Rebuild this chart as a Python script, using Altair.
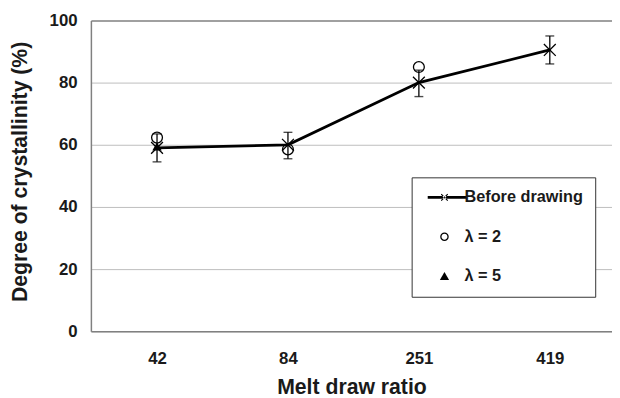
import json
import altair as alt
import pandas as pd

# ---- data ----
ratios = ["42", "84", "251", "419"]
before = [59.0, 60.0, 80.0, 90.5]
err_lo = [54.5, 55.5, 75.5, 86.0]
err_hi = [63.5, 64.0, 84.0, 95.0]
lam2 = [62.3, 58.5, 85.0, None]
lam5 = [59.5, None, None, None]
series_names = ["Before drawing", "λ = 2", "λ = 5"]
y_ticks = [0, 20, 40, 60, 80, 100]

idx = list(range(len(ratios)))
df_before = pd.DataFrame({"idx": idx, "value": before, "lo": err_lo, "hi": err_hi})
df_l2 = pd.DataFrame({"idx": idx, "value": lam2}).dropna()
df_l5 = pd.DataFrame({"idx": idx, "value": lam5}).dropna()
df_all = pd.concat([
    df_before[["idx", "value"]].assign(series=series_names[0]),
    df_l2.assign(series=series_names[1]),
    df_l5.assign(series=series_names[2]),
], ignore_index=True)

FONT = "Liberation Sans"
TXT = "#1a1a1a"
AXC = "#808080"

xscale = alt.Scale(domain=[-0.505, 3.475], nice=False, zero=False)
yscale = alt.Scale(domain=[0, 100], nice=False, zero=True)

xaxis = alt.Axis(
    values=idx,
    labelExpr=f"{json.dumps(ratios)}[datum.value]",
    ticks=False, grid=False,
    domainColor=AXC, domainWidth=1.5,
    labelFont=FONT, labelFontSize=17, labelFontWeight="bold", labelColor=TXT,
    labelPadding=20,
    titleFont=FONT, titleFontSize=21.5, titleFontWeight="bold", titleColor=TXT,
    titleBaseline="alphabetic", titleY=63,
)
yaxis = alt.Axis(
    values=y_ticks, ticks=False,
    domainColor=AXC, domainWidth=1.5,
    grid=True,
    gridColor={"condition": {"test": "datum.value === 100", "value": AXC}, "value": "#bdbdbd"},
    gridWidth={"condition": {"test": "datum.value === 100", "value": 1.5}, "value": 1},
    labelFont=FONT, labelFontSize=17, labelFontWeight="bold", labelColor=TXT,
    labelPadding=14,
    titleFont=FONT, titleFontSize=21.5, titleFontWeight="bold", titleColor=TXT,
    titleX=-71, titleY=153, titleAngle=-90, titleAlign="center", titleBaseline="middle",
)

XT = "Melt draw ratio"
YT = "Degree of crystallinity (%)"

def X(field):
    return alt.X(field, scale=xscale, axis=xaxis, title=XT)

def Y(field):
    return alt.Y(field, scale=yscale, axis=yaxis, title=YT)

line = alt.Chart(df_before).mark_line(color="black", strokeWidth=2.8).encode(
    x=X("idx:Q"), y=Y("value:Q"))

rules = alt.Chart(df_before).mark_rule(color="black", strokeWidth=1.3).encode(
    x=X("idx:Q"), y=Y("lo:Q"), y2="hi:Q")

cap_lo = alt.Chart(df_before).mark_tick(color="black", orient="horizontal", size=9, thickness=1.4).encode(
    x=X("idx:Q"), y=Y("lo:Q"))
cap_hi = alt.Chart(df_before).mark_tick(color="black", orient="horizontal", size=9, thickness=1.4).encode(
    x=X("idx:Q"), y=Y("hi:Q"))

XPATH = "M-1,-1L1,1M-1,1L1,-1"
pts_before = alt.Chart(df_before).mark_point(
    shape=XPATH, size=144, color="black", strokeWidth=1.3, filled=False, opacity=1).encode(
    x=X("idx:Q"), y=Y("value:Q"))

pts_l2 = alt.Chart(df_l2).mark_point(
    shape="circle", size=121, color="black", strokeWidth=1.3, filled=False, opacity=1).encode(
    x=X("idx:Q"), y=Y("value:Q"))

pts_l5 = alt.Chart(df_l5).mark_point(
    shape="triangle-up", size=90, color="black", filled=True, opacity=1).encode(
    x=X("idx:Q"), y=Y("value:Q"))

# legend symbols as filled outlines (unit = 6 px at symbolSize 144)
LEG_BEFORE = ("M-2.83,-0.22H3.67V0.22H-2.83Z"
              "M-0.62,-0.48L0.48,0.62L0.62,0.48L-0.48,-0.62Z"
              "M-0.48,0.62L0.62,-0.48L0.48,-0.62L-0.62,0.48Z")
LEG_CIRCLE = ("M0.72,0A0.72,0.72 0 1,1 -0.72,0A0.72,0.72 0 1,1 0.72,0Z"
              "M0.5,0A0.5,0.5 0 1,0 -0.5,0A0.5,0.5 0 1,0 0.5,0Z")
LEG_TRI = "M0,-0.72L0.78,0.62L-0.78,0.62Z"

legend_layer = alt.Chart(df_all).mark_point(opacity=0, color="black").encode(
    x=X("idx:Q"), y=Y("value:Q"),
    shape=alt.Shape("series:N",
                    scale=alt.Scale(domain=series_names, range=[LEG_BEFORE, LEG_CIRCLE, LEG_TRI]),
                    legend=alt.Legend(title=None)),
    fill=alt.Fill("series:N",
                  scale=alt.Scale(domain=series_names, range=["black", "black", "black"]),
                  legend=alt.Legend(title=None)),
)

chart = alt.layer(line, rules, cap_lo, cap_hi, pts_before, pts_l2, pts_l5, legend_layer).properties(
    width=528, height=315,
    autosize=alt.AutoSizeParams(type="none"),
    padding={"left": 84, "top": 10, "right": 0, "bottom": 65},
    background="white",
).configure_view(stroke=None).configure_legend(
    orient="none", legendX=325, legendY=159,
    padding=12, strokeColor="#333333", fillColor="white",
    labelFont=FONT, labelFontSize=16.5, labelFontWeight="bold", labelColor=TXT,
    labelBaseline="middle",
    rowPadding=23, symbolSize=144, symbolOffset=13, labelOffset=12,
    symbolStrokeWidth=0, symbolOpacity=1,
)

chart.save("out.html", embed_options={"renderer": "svg", "actions": False})
